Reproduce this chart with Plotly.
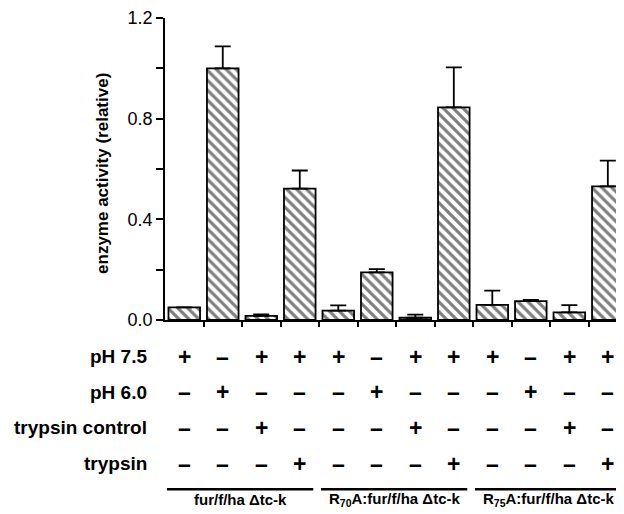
import plotly.graph_objects as go

# ---------------- data ----------------
conditions = ["pH 7.5", "pH 6.0", "trypsin control", "trypsin"]
activity = [0.05, 1.00, 0.016, 0.522,
            0.037, 0.189, 0.009, 0.845,
            0.06, 0.075, 0.03, 0.531]
upper_err = [0.0, 0.087, 0.006, 0.072,
             0.021, 0.013, 0.012, 0.159,
             0.057, 0.005, 0.029, 0.102]
ph75 =    ["+", "–", "+", "+", "+", "–", "+", "+", "+", "–", "+", "+"]
ph60 =    ["–", "+", "–", "–", "–", "+", "–", "–", "–", "+", "–", "–"]
tcontrol = ["–", "–", "+", "–", "–", "–", "+", "–", "–", "–", "+", "–"]
trypsin = ["–", "–", "–", "+", "–", "–", "–", "+", "–", "–", "–", "+"]
groups = ["fur/f/ha \u0394tc-k",
          "R<sub>70</sub>A:fur/f/ha \u0394tc-k",
          "R<sub>75</sub>A:fur/f/ha \u0394tc-k"]
ytick_vals = [0.0, 0.2, 0.4, 0.6, 0.8, 1.0, 1.2]
ytick_text = ["0.0", "", "0.4", "", "0.8", "", "1.2"]

# ---------------- layout geometry ----------------
OFF = 8                      # page body margin
W, H = 624 - OFF, 514 - OFF
ML, MT, MB, MR = 165 - OFF, 15 - OFF, 194, 0
plot_h = H - MT - MB
plot_w = W - ML - MR


def py(p):
    """reference pixel y -> paper y"""
    return (H - MB - (p - OFF)) / plot_h


def px(p):
    """reference pixel x -> paper x"""
    return ((p - OFF) - ML) / plot_w


FONT = "Liberation Sans, Arial, sans-serif"
xs = list(range(len(activity)))

fig = go.Figure()
fig.add_trace(go.Bar(
    x=xs, y=activity, width=0.82,
    marker=dict(color="white",
                line=dict(color="black", width=1.8),
                pattern=dict(shape="\\", fgcolor="black", bgcolor="white",
                             size=7, solidity=0.45, fillmode="overlay")),
    error_y=dict(type="data", symmetric=False, array=upper_err,
                 arrayminus=[0] * len(upper_err),
                 color="black", thickness=1.8, width=8),
    showlegend=False,
))

annotations = []
rows = [ph75, ph60, tcontrol, trypsin]
row_pix = [357, 393, 429, 465]
for label, vals, p in zip(conditions, rows, row_pix):
    annotations.append(dict(text="<b>%s</b>" % label, x=px(149), xref="paper",
                            y=py(p), yref="paper", showarrow=False,
                            xanchor="right", yanchor="middle",
                            font=dict(family=FONT, size=19, color="black")))
    for i, v in enumerate(vals):
        annotations.append(dict(text="<b>%s</b>" % v, x=xs[i], xref="x",
                                y=py(p), yref="paper", showarrow=False,
                                xanchor="center", yanchor="middle",
                                font=dict(family=FONT, size=23, color="black")))

shapes = []
for g, name in enumerate(groups):
    shapes.append(dict(type="line", xref="x", yref="paper",
                       x0=g * 4 - 0.45, x1=g * 4 + 3.35,
                       y0=py(491), y1=py(491),
                       line=dict(color="black", width=2.4)))
    annotations.append(dict(text="<b>%s</b>" % name, x=g * 4 + 1.45, xref="x",
                            y=py(501), yref="paper", showarrow=False,
                            xanchor="center", yanchor="middle",
                            font=dict(family=FONT, size=15, color="black")))

annotations.append(dict(text="<b>enzyme activity (relative)</b>",
                        x=px(102.5), xref="paper",
                        y=py(172), yref="paper", textangle=-90,
                        showarrow=False, xanchor="center", yanchor="middle",
                        font=dict(family=FONT, size=17, color="black")))

fig.update_layout(
    width=W, height=H,
    margin=dict(l=ML, r=MR, t=MT, b=MB, pad=0),
    paper_bgcolor="white", plot_bgcolor="white",
    xaxis=dict(range=[-0.5, 11.42], showgrid=False, zeroline=False,
               showline=True, linecolor="black", linewidth=1.8,
               tickmode="array", tickvals=[i + 0.5 for i in range(11)],
               ticktext=[""] * 11, ticks="outside", ticklen=5,
               tickwidth=1.5, tickcolor="black", fixedrange=True),
    yaxis=dict(range=[0, 1.2], showgrid=False, zeroline=False,
               showline=True, linecolor="black", linewidth=1.8,
               tickmode="array", tickvals=ytick_vals, ticktext=ytick_text,
               ticks="outside", ticklen=7, tickwidth=1.5, tickcolor="black",
               tickfont=dict(family=FONT, size=18, color="black"),
               ticklabeloverflow="allow", fixedrange=True),
    annotations=annotations,
    shapes=shapes,
)

fig.write_html("out.html")
